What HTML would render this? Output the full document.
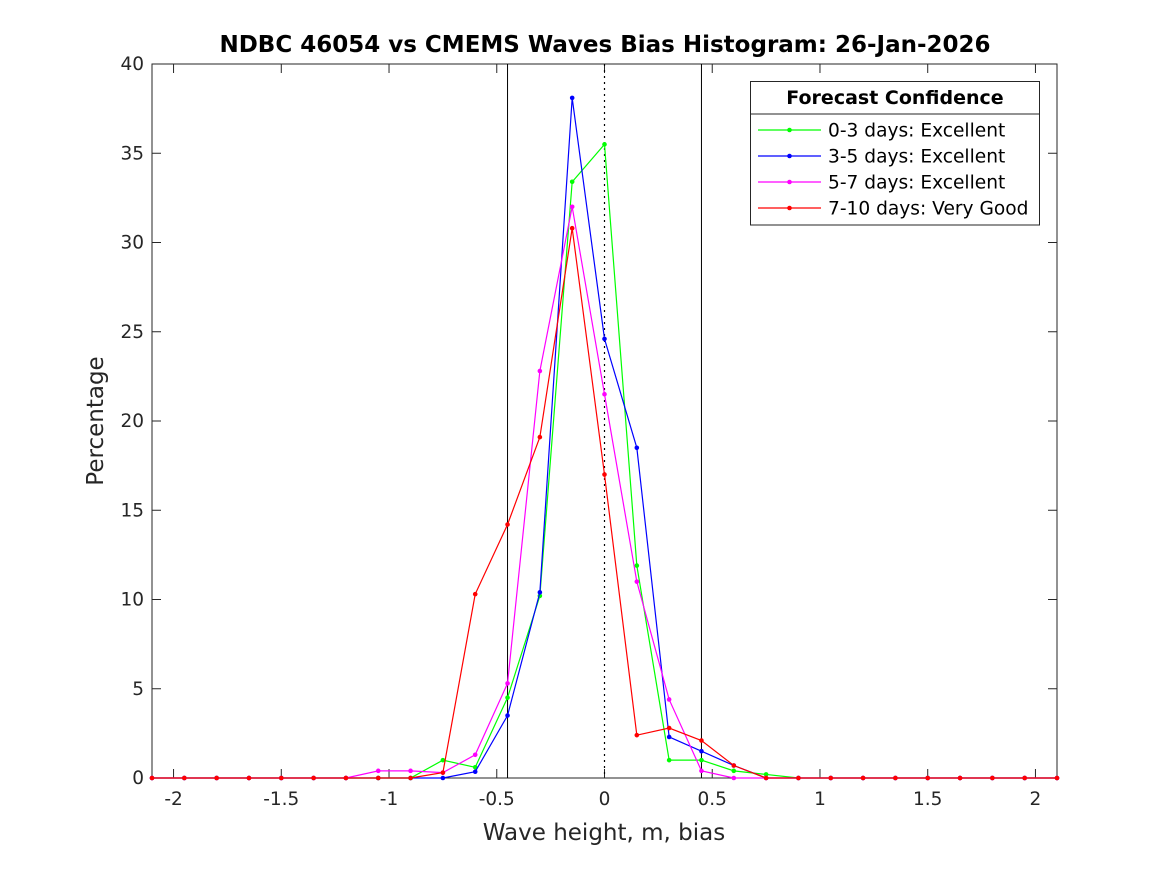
<!DOCTYPE html>
<html><head><meta charset="utf-8"><style>
body{margin:0;background:#fff}
svg text{font-family:"DejaVu Sans","Liberation Sans",sans-serif;fill:#262626}
</style></head><body>
<svg id="chart" width="1167" height="875" xmlns="http://www.w3.org/2000/svg">
<rect width="1167" height="875" fill="#fff"/>
<g id="plot"></g>
</svg>
<script>
const xCenters=[-2.1,-1.95,-1.8,-1.65,-1.5,-1.35,-1.2,-1.05,-0.9,-0.75,-0.6,-0.45,-0.3,-0.15,0,0.15,0.3,0.45,0.6,0.75,0.9,1.05,1.2,1.35,1.5,1.65,1.8,1.95,2.1];
const green =[0,0,0,0,0,0,0,0,0,1.0,0.6,4.5,10.2,33.4,35.5,11.9,1.0,1.0,0.4,0.2,0,0,0,0,0,0,0,0,0];
const blue  =[0,0,0,0,0,0,0,0,0,0,0.35,3.5,10.4,38.1,24.6,18.5,2.3,1.5,0.7,0,0,0,0,0,0,0,0,0,0];
const magenta=[0,0,0,0,0,0,0,0.4,0.4,0.3,1.3,5.3,22.8,32.0,21.5,11.0,4.4,0.4,0,0,0,0,0,0,0,0,0,0,0];
const red   =[0,0,0,0,0,0,0,0,0,0.3,10.3,14.2,19.1,30.8,17.0,2.4,2.8,2.1,0.7,0,0,0,0,0,0,0,0,0,0];
const xTicks=[-2,-1.5,-1,-0.5,0,0.5,1,1.5,2];
const xTickLabels=["-2","-1.5","-1","-0.5","0","0.5","1","1.5","2"];
const yTicks=[0,5,10,15,20,25,30,35,40];
const refLines=[-0.45,0.45];
const seriesNames=["0-3 days: Excellent","3-5 days: Excellent","5-7 days: Excellent","7-10 days: Very Good"];

const L=152,R=1057,T=64,B=778;
const sx=v=>L+(v+2.1)/4.2*(R-L);
const sy=v=>B-v/40*(B-T);
const NS="http://www.w3.org/2000/svg";
const g=document.getElementById('plot');
function mk(tag,attrs,parent){const e=document.createElementNS(NS,tag);for(const k in attrs)e.setAttribute(k,attrs[k]);(parent||g).appendChild(e);return e;}

let e=mk('rect',{x:L,y:T,width:R-L,height:B-T,fill:'none',stroke:'#262626','stroke-width':1});



xTicks.forEach((t,i)=>{
  const x=sx(t);
  mk('line',{x1:x,x2:x,y1:B,y2:B-9,stroke:'#262626'});
  mk('line',{x1:x,x2:x,y1:T,y2:T+9,stroke:'#262626'});
  const tx=mk('text',{x:x,y:B+27,'text-anchor':'middle','font-size':18.5});
  tx.textContent=xTickLabels[i];
  
  
});
yTicks.forEach(t=>{
  const y=sy(t);
  mk('line',{x1:L,x2:L+9,y1:y,y2:y,stroke:'#262626'});
  mk('line',{x1:R,x2:R-9,y1:y,y2:y,stroke:'#262626'});
  const tx=mk('text',{x:L-8,y:y+6,'text-anchor':'end','font-size':18.5});
  tx.textContent=String(t);
  
  
});

refLines.forEach(v=>{
  const l=mk('line',{x1:sx(v),x2:sx(v),y1:T,y2:B,stroke:'#000','stroke-width':1});
  
  
});
e=mk('line',{x1:sx(0),x2:sx(0),y1:T,y2:B,stroke:'#000','stroke-width':1.2,'stroke-dasharray':'2,4'});



const series=[green,blue,magenta,red];
const colors=['#00ff00','#0000ff','#ff00ff','#ff0000'];
const snames=['series-0-3-days','series-3-5-days','series-5-7-days','series-7-10-days'];
series.forEach((s,i)=>{
  const grp=mk('g',{});
  
  
  mk('polyline',{points:s.map((v,j)=>sx(xCenters[j])+','+sy(v)).join(' '),fill:'none',stroke:colors[i],'stroke-width':1.2},grp);
  s.forEach((v,j)=>{
    const c=mk('circle',{cx:sx(xCenters[j]),cy:sy(v),r:2.3,fill:colors[i]},grp);
    
    
  });
});

const lg=mk('g',{});


mk('rect',{x:750.5,y:81.5,width:289,height:143.5,fill:'#fff',stroke:'#262626'},lg);
mk('line',{x1:750.5,x2:1039.5,y1:114,y2:114,stroke:'#262626'},lg);
e=mk('text',{x:895,y:104,'text-anchor':'middle','font-size':19,'font-weight':'bold',style:'fill:#000'},lg);
e.textContent='Forecast Confidence';


seriesNames.forEach((n,i)=>{
  const y=130+i*26;
  const en=mk('g',{},lg);
  
  
  mk('line',{x1:758,x2:821,y1:y,y2:y,stroke:colors[i],'stroke-width':1.2},en);
  mk('circle',{cx:789.5,cy:y,r:2.3,fill:colors[i]},en);
  const t=mk('text',{x:828,y:y+6.5,'font-size':18.6,style:'fill:#000'},en);
  t.textContent=n;
});

e=mk('text',{x:605,y:52,'text-anchor':'middle','font-size':23,'font-weight':'bold',style:'fill:#000'});
e.textContent='NDBC 46054 vs CMEMS Waves Bias Histogram: 26-Jan-2026';


e=mk('text',{x:604,y:840,'text-anchor':'middle','font-size':23});
e.textContent='Wave height, m, bias';


e=mk('text',{x:0,y:0,'text-anchor':'middle','font-size':23,transform:'translate(103,421) rotate(-90)'});
e.textContent='Percentage';


</script>
</body></html>
